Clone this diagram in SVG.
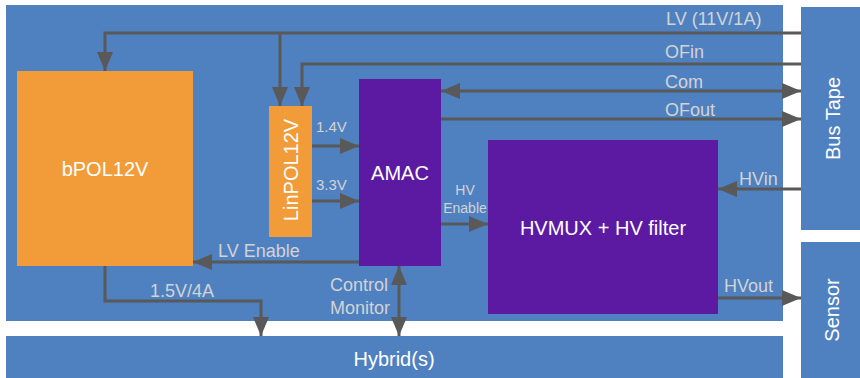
<svg xmlns="http://www.w3.org/2000/svg" width="860" height="378" viewBox="0 0 860 378">
  <style>
    .panel { fill: #4f81c1; }
    .pol { fill: #f19c38; }
    .chip { fill: #5c1aa3; }
    .wire { fill: none; stroke: #595959; stroke-width: 3; }
    .name { font-family: "Liberation Sans", Arial, sans-serif; font-size: 20px; fill: #ffffff; }
    .lbl { font-family: "Liberation Sans", Arial, sans-serif; font-size: 18px; fill: #d3d3d3; }
    .sm { font-family: "Liberation Sans", Arial, sans-serif; font-size: 15px; fill: #d3d3d3; }
    .xs { font-family: "Liberation Sans", Arial, sans-serif; font-size: 14px; fill: #d3d3d3; }
  </style>
  <defs>
    <marker id="head" markerUnits="userSpaceOnUse" markerWidth="19" markerHeight="16" refX="19" refY="8" orient="auto-start-reverse">
      <path d="M0,0 L19,8 L0,16 Z" fill="#595959"/>
    </marker>
  </defs>

  <rect width="860" height="378" fill="#ffffff"/>

  <!-- module board -->
  <g id="board">
    <rect class="panel" x="6" y="5" width="777" height="316"/>
  </g>

  <g id="hybrid">
    <rect class="panel" x="6" y="336" width="777" height="42"/>
    <text class="name" x="394" y="366" text-anchor="middle">Hybrid(s)</text>
  </g>

  <g id="bus-tape">
    <rect class="panel" x="801" y="7" width="59" height="223"/>
    <text class="name" transform="translate(840,118.5) rotate(-90)" text-anchor="middle">Bus Tape</text>
  </g>

  <g id="sensor">
    <rect class="panel" x="801" y="242" width="59" height="136"/>
    <text class="name" transform="translate(839,310) rotate(-90)" text-anchor="middle">Sensor</text>
  </g>

  <g id="bpol12v">
    <rect class="pol" x="17" y="71" width="176" height="195"/>
    <text class="name" x="105" y="176" text-anchor="middle">bPOL12V</text>
  </g>

  <g id="linpol12v">
    <rect class="pol" x="269" y="106" width="43" height="131"/>
    <text class="name" transform="translate(297.5,170) rotate(-90)" text-anchor="middle">LinPOL12V</text>
  </g>

  <g id="amac">
    <rect class="chip" x="359" y="79" width="82" height="187"/>
    <text class="name" x="400" y="180" text-anchor="middle">AMAC</text>
  </g>

  <g id="hvmux">
    <rect class="chip" x="488" y="140" width="230" height="174"/>
    <text class="name" x="603" y="235" text-anchor="middle">HVMUX + HV filter</text>
  </g>

  <!-- connectors -->
  <g id="connectors">
    <!-- LV supply from the bus tape to both regulators -->
    <path class="wire" d="M801,33 H105 V71" marker-end="url(#head)"/>
    <path class="wire" d="M280,33 V106" marker-end="url(#head)"/>
    <!-- OFin -->
    <path class="wire" d="M801,64 H302 V106" marker-end="url(#head)"/>
    <!-- Com (bidirectional) -->
    <path class="wire" d="M441,91 H801" marker-start="url(#head)" marker-end="url(#head)"/>
    <!-- OFout -->
    <path class="wire" d="M441,119 H801" marker-end="url(#head)"/>
    <!-- 1.4V and 3.3V rails into AMAC -->
    <path class="wire" d="M312,146 H359" marker-end="url(#head)"/>
    <path class="wire" d="M312,201 H359" marker-end="url(#head)"/>
    <!-- HVin -->
    <path class="wire" d="M801,189 H718" marker-end="url(#head)"/>
    <!-- HV Enable -->
    <path class="wire" d="M441,224 H488" marker-end="url(#head)"/>
    <!-- LV Enable -->
    <path class="wire" d="M359,262 H193" marker-end="url(#head)"/>
    <!-- 1.5V/4A to hybrids -->
    <path class="wire" d="M105,266 V301 H261 V336" marker-end="url(#head)"/>
    <!-- Control / Monitor (bidirectional) -->
    <path class="wire" d="M399,266 V336" marker-start="url(#head)" marker-end="url(#head)"/>
    <!-- HVout -->
    <path class="wire" d="M718,298 H801" marker-end="url(#head)"/>

    <text class="lbl" x="666" y="25">LV (11V/1A)</text>
    <text class="lbl" x="665" y="58">OFin</text>
    <text class="lbl" x="665" y="88">Com</text>
    <text class="lbl" x="665" y="116">OFout</text>
    <text class="sm" x="316" y="132">1.4V</text>
    <text class="sm" x="316" y="190">3.3V</text>
    <text class="lbl" x="739" y="185">HVin</text>
    <text class="xs" x="465" y="195" text-anchor="middle">HV</text>
    <text class="xs" x="465" y="213" text-anchor="middle">Enable</text>
    <text class="lbl" x="218" y="257">LV Enable</text>
    <text class="lbl" x="150" y="297">1.5V/4A</text>
    <text class="lbl" x="330" y="291">Control</text>
    <text class="lbl" x="330" y="314">Monitor</text>
    <text class="lbl" x="724" y="292">HVout</text>
  </g>
</svg>
